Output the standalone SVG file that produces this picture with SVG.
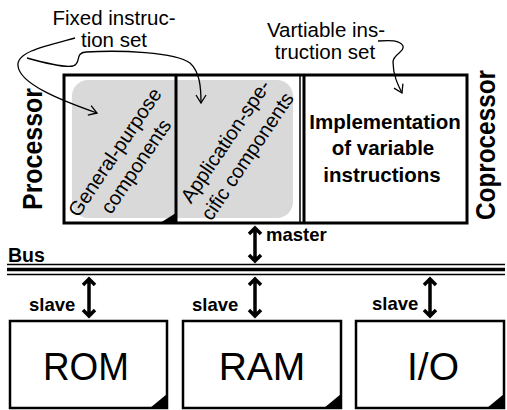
<svg xmlns="http://www.w3.org/2000/svg" width="507" height="410" viewBox="0 0 507 410">
  <defs>
    <style>
      .lbl { font-family: "Liberation Sans", Arial, sans-serif; fill: #000; }
      .b { font-weight: bold; }
      .frame { fill: #fff; stroke: #000; stroke-width: 3; }
      .box { fill: #fff; stroke: #000; stroke-width: 2.5; }
      .gray { fill: #d9d9d9; stroke: none; }
      .curve { fill: none; stroke: #000; stroke-width: 1.3; marker-end: url(#open); }
      .dbl { fill: none; stroke: #000; stroke-width: 3.5; stroke-linejoin: miter; }
    </style>
    <marker id="open" markerUnits="userSpaceOnUse" markerWidth="14" markerHeight="14" refX="10" refY="7" orient="auto" viewBox="0 0 14 14">
      <path d="M2,2 L10,7 L2,12" fill="none" stroke="#000" stroke-width="1.3"/>
    </marker>
  </defs>

  <!-- processor / coprocessor block -->
  <g id="processor">
    <rect class="frame" x="64" y="75" width="403" height="148"/>
    <path class="gray" d="M88,80 H176 V218 H88 A16,16 0 0 1 72,202 V96 A16,16 0 0 1 88,80 Z"/>
    <path class="gray" d="M176,80 H277 A16,16 0 0 1 293,96 V202 A16,16 0 0 1 277,218 H176 Z"/>
    <line x1="176" y1="75" x2="176" y2="223" stroke="#000" stroke-width="3"/>
    <line x1="300" y1="75" x2="300" y2="223" stroke="#000" stroke-width="1.5"/>
    <line x1="304" y1="75" x2="304" y2="223" stroke="#000" stroke-width="3"/>
    <polygon points="160,223 176,223 176,213" fill="#000"/>
    <text class="lbl b" transform="translate(42,149) rotate(-90)" font-size="27" text-anchor="middle" textLength="122" lengthAdjust="spacingAndGlyphs">Processor</text>
    <text class="lbl b" transform="translate(495,145) rotate(-90)" font-size="27" text-anchor="middle" textLength="150" lengthAdjust="spacingAndGlyphs">Coprocessor</text>
  </g>

  <g id="general-purpose">
    <g transform="translate(125,159) rotate(-56)">
      <text class="lbl" font-size="20" text-anchor="middle" x="0" y="-5.5">General-purpose</text>
      <text class="lbl" font-size="20" text-anchor="middle" x="0" y="20">components</text>
    </g>
  </g>

  <g id="application-specific">
    <g transform="translate(236,148.5) rotate(-56)">
      <text class="lbl" font-size="20" text-anchor="middle" x="0" y="-6">Application-spe-</text>
      <text class="lbl" font-size="20" text-anchor="middle" x="0" y="20.5">cific components</text>
    </g>
  </g>

  <g id="variable-impl">
    <text class="lbl b" font-size="20.5" text-anchor="middle" x="385" y="129">Implementation</text>
    <text class="lbl b" font-size="20.5" text-anchor="middle" x="383" y="155">of variable</text>
    <text class="lbl b" font-size="20.5" text-anchor="middle" x="382" y="182">instructions</text>
  </g>

  <!-- annotations above the block -->
  <g id="fixed-set">
    <text class="lbl" font-size="20.5" text-anchor="middle" x="114" y="25">Fixed instruc-</text>
    <text class="lbl" font-size="20.5" text-anchor="middle" x="114" y="47">tion set</text>
  </g>
  <g id="variable-set">
    <text class="lbl" font-size="20.5" text-anchor="middle" x="326" y="37">Vartiable ins-</text>
    <text class="lbl" font-size="20.5" text-anchor="middle" x="325" y="59">truction set</text>
  </g>

  <!-- bus -->
  <g id="bus">
    <text class="lbl b" font-size="19.5" x="8" y="262">Bus</text>
    <line x1="7" y1="264.5" x2="505" y2="264.5" stroke="#000" stroke-width="1.5"/>
    <line x1="7" y1="269.5" x2="505" y2="269.5" stroke="#000" stroke-width="3.5"/>
    <line x1="7" y1="274.5" x2="505" y2="274.5" stroke="#000" stroke-width="1.5"/>
  </g>

  <!-- memory and I/O blocks -->
  <g id="rom">
    <rect class="box" x="10" y="321" width="157" height="87"/>
    <polygon points="150,408 167,408 167,394" fill="#000"/>
    <text class="lbl" font-size="39" text-anchor="middle" x="86" y="380" textLength="86" lengthAdjust="spacingAndGlyphs">ROM</text>
  </g>
  <g id="ram">
    <rect class="box" x="183" y="321" width="158" height="87"/>
    <polygon points="324,408 341,408 341,394" fill="#000"/>
    <text class="lbl" font-size="39" text-anchor="middle" x="262" y="380">RAM</text>
  </g>
  <g id="io">
    <rect class="box" x="356" y="321" width="148" height="87"/>
    <polygon points="487,408 504,408 504,394" fill="#000"/>
    <text class="lbl" font-size="39" text-anchor="middle" x="433" y="380">I/O</text>
  </g>

  <!-- connectors -->
  <g id="connectors">
    <path class="curve" d="M75,38 C45,46 16,52 18,66 C20,84 60,100 97,113"/>
    <path class="curve" d="M27,58 C45,63 65,68 73,66 C82,63 74,53 86,52 C120,50 175,52 190,63 C200,72 201,88 201,103"/>
    <path class="curve" d="M378,41 C390,40 400,40 403,46 C405,52 393,54 393,62 C393,75 398,85 402,93"/>

    <path class="dbl" d="M255,228 V261 M249,234 L255,228 L261,234 M249,255 L255,261 L261,255"/>
    <path class="dbl" d="M89,279 V316 M83,285 L89,279 L95,285 M83,310 L89,316 L95,310"/>
    <path class="dbl" d="M255,279 V316 M249,285 L255,279 L261,285 M249,310 L255,316 L261,310"/>
    <path class="dbl" d="M430,279 V316 M424,285 L430,279 L436,285 M424,310 L430,316 L436,310"/>

    <text class="lbl b" font-size="18.5" x="266" y="241">master</text>
    <text class="lbl b" font-size="18.5" x="29" y="311">slave</text>
    <text class="lbl b" font-size="18.5" x="192" y="311">slave</text>
    <text class="lbl b" font-size="18.5" x="372" y="310">slave</text>
  </g>
</svg>
